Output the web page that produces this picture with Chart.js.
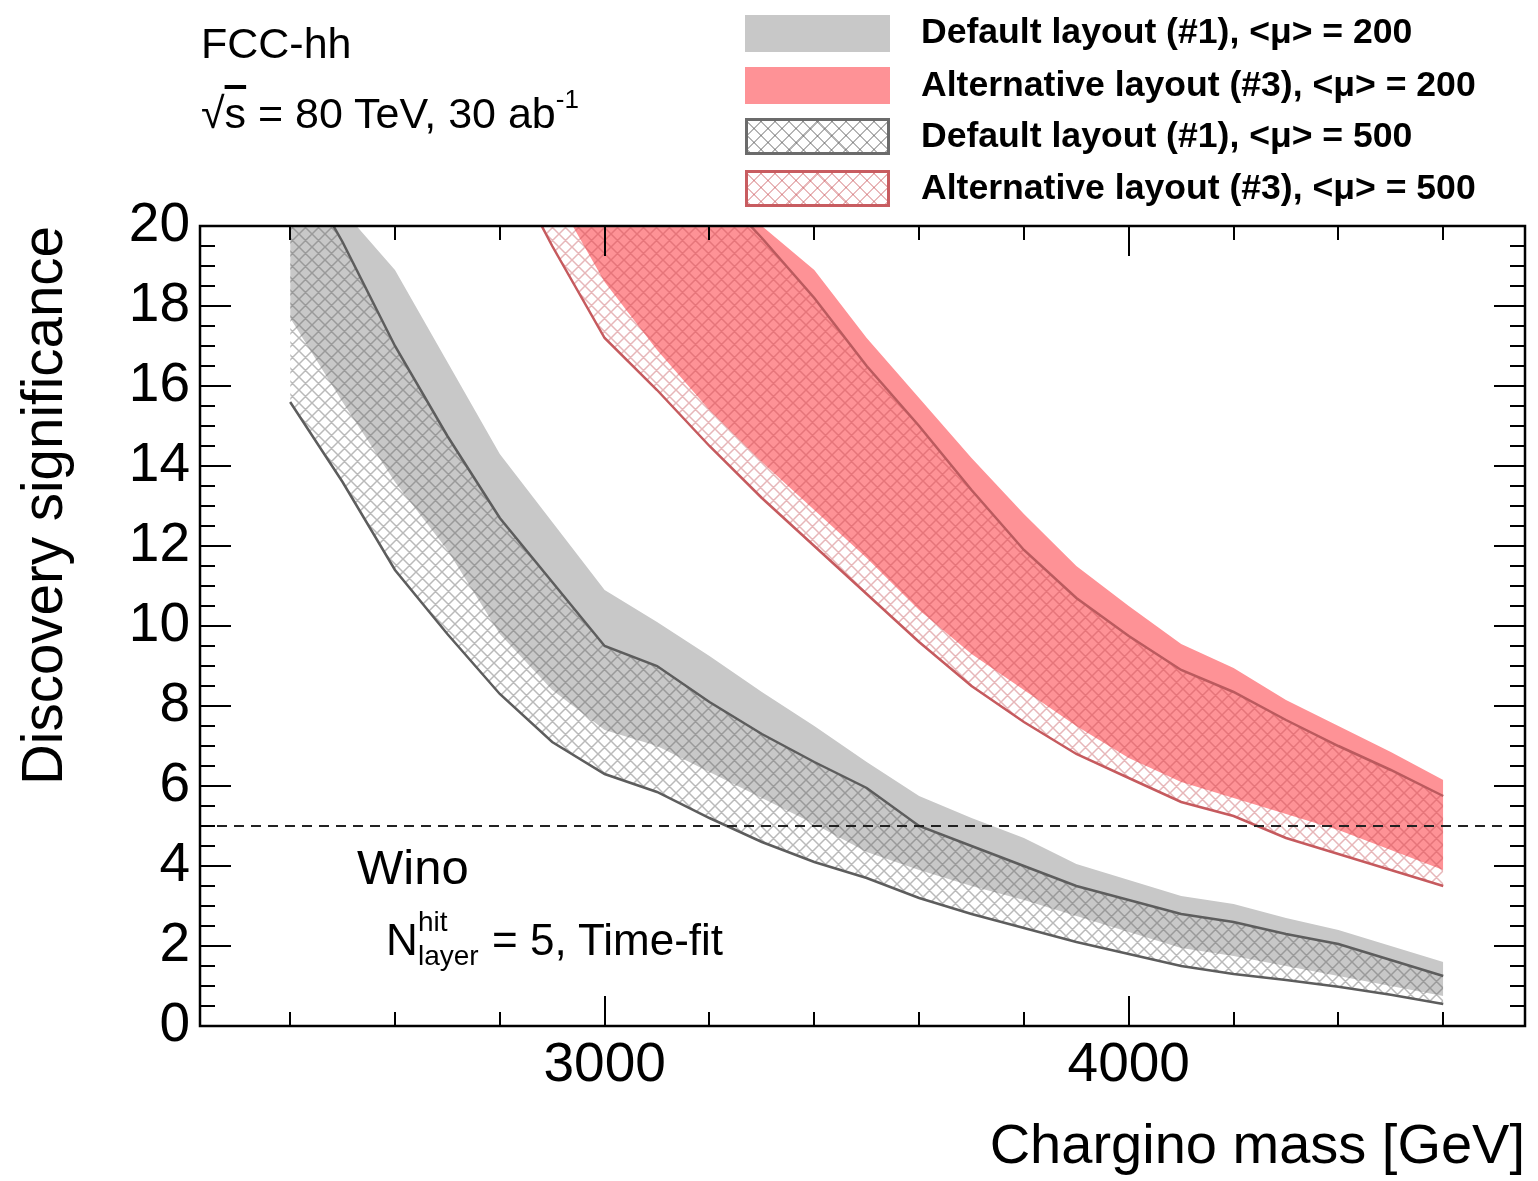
<!DOCTYPE html>
<html><head><meta charset="utf-8">
<script src="https://cdn.jsdelivr.net/npm/chart.js@4.4.1/dist/chart.umd.min.js"></script>
<style>
html,body{margin:0;padding:0;background:#fff;}
#wrap{position:relative;width:1538px;height:1181px;overflow:hidden;}
#wrap canvas{position:absolute;left:0;top:0;}
.t{position:absolute;font-family:"Liberation Sans",Arial,Helvetica,sans-serif;color:#000;white-space:nowrap;line-height:1;}
.lg{font-weight:bold;font-size:35.6px;left:921px;}
.sw{position:absolute;left:745px;width:145px;height:37px;box-sizing:border-box;}
</style></head><body>
<div id="wrap">
<canvas id="c" width="1538" height="1181"></canvas>

<div class="t" style="left:201px;top:21.6px;font-size:43px;">FCC-hh</div>
<div class="t" style="left:201px;top:91.6px;font-size:43px;">√<span style="text-decoration:overline;">s</span> = 80 TeV, 30 ab<span style="font-size:26px;position:relative;top:-20px;">-1</span></div>

<div class="sw" style="top:15px;background:#c8c8c8;"></div>
<div class="sw" style="top:67px;background:#fe9296;"></div>
<div class="sw" style="top:118px;border:3px solid #6b6b6b;background-image:repeating-linear-gradient(45deg,rgba(90,90,90,.45) 0 1.5px,transparent 1.5px 10px),repeating-linear-gradient(-45deg,rgba(90,90,90,.45) 0 1.5px,transparent 1.5px 10px);"></div>
<div class="sw" style="top:170px;border:3px solid #c85c60;background-image:repeating-linear-gradient(45deg,rgba(200,80,85,.4) 0 1.5px,transparent 1.5px 10px),repeating-linear-gradient(-45deg,rgba(200,80,85,.4) 0 1.5px,transparent 1.5px 10px);"></div>
<div class="t lg" style="top:14.4px;">Default layout (#1), &lt;μ&gt; = 200</div>
<div class="t lg" style="top:67.4px;">Alternative layout (#3), &lt;μ&gt; = 200</div>
<div class="t lg" style="top:118.4px;">Default layout (#1), &lt;μ&gt; = 500</div>
<div class="t lg" style="top:170.4px;">Alternative layout (#3), &lt;μ&gt; = 500</div>

<div class="t" style="left:357px;top:842.5px;font-size:49px;">Wino</div>
<div class="t" style="left:386px;top:917.8px;font-size:44px;">N</div>
<div class="t" style="left:418px;top:908.3px;font-size:28px;">hit</div>
<div class="t" style="left:418px;top:942.3px;font-size:28px;">layer</div>
<div class="t" style="left:492px;top:917.8px;font-size:44px;">= 5, Time-fit</div>
</div>
<script>
// ---- data ----
const masses   = [2400,2500,2600,2700,2800,2900,3000,3100,3200,3300,3400,3500,3600,3700,3800,3900,4000,4100,4200,4300,4400,4500,4600];
// Default layout (#1), <mu> = 200 : band edges (solid grey)
const def200Hi = [22.8,20.4,18.9,16.6,14.3,12.6,10.9,10.1,9.25,8.35,7.5,6.6,5.75,5.2,4.7,4.05,3.65,3.25,3.05,2.7,2.4,2.0,1.6];
const def200Lo = [17.7,15.6,13.6,11.9,9.8,8.4,7.4,7.0,6.35,5.7,5.05,4.35,3.9,3.5,3.15,2.75,2.35,1.95,1.75,1.5,1.25,1.0,0.75];
// Alternative layout (#3), <mu> = 200 : band edges (solid red)
const alt200Hi = [40,37,34,31,28,25.5,24,22.8,21.5,20.0,18.9,17.2,15.7,14.2,12.8,11.5,10.5,9.55,8.95,8.15,7.5,6.85,6.15];
const alt200Lo = [34,31,28,25.5,23.2,20.9,18.6,16.9,15.4,14.1,12.9,11.7,10.4,9.3,8.4,7.5,6.7,6.1,5.7,5.3,4.9,4.4,3.9];
// Default layout (#1), <mu> = 500 : band edges (hatched grey)
const def500Hi = [21.9,19.6,17.0,14.75,12.7,11.1,9.5,9.0,8.1,7.3,6.6,5.95,5.0,4.5,4.0,3.5,3.15,2.8,2.6,2.3,2.05,1.65,1.25];
const def500Lo = [15.6,13.6,11.4,9.8,8.3,7.1,6.3,5.85,5.2,4.6,4.1,3.7,3.2,2.8,2.45,2.1,1.8,1.5,1.3,1.15,0.98,0.78,0.55];
// Alternative layout (#3), <mu> = 500 : band edges (hatched red)
const alt500Hi = [38,35,32,29,26.5,24.5,23.5,22.3,21.1,19.7,18.2,16.5,15.0,13.4,11.9,10.7,9.75,8.9,8.35,7.65,7.0,6.4,5.75];
const alt500Lo = [32,29.5,27,24.5,22.0,19.5,17.2,15.9,14.5,13.2,12.0,10.8,9.6,8.5,7.6,6.8,6.2,5.6,5.25,4.7,4.3,3.9,3.5];
// discovery threshold line and axes
const discoveryLevel = 5;
const xRange = [2228, 4756];
const yRange = [0, 20];
const xLabelTicks = [3000, 4000];
const xMinorTicks = [2400,2600,2800,3200,3400,3600,3800,4200,4400,4600];

const pts = arr => masses.map((m, i) => ({x: m, y: arr[i]}));

function hatch(color) {
  const s = 13;
  const c = document.createElement('canvas');
  c.width = s; c.height = s;
  const g = c.getContext('2d');
  g.strokeStyle = color; g.lineWidth = 1.5;
  g.beginPath();
  for (const k of [-s, 0, s]) {
    g.moveTo(k, 0); g.lineTo(k + s, s);
    g.moveTo(k + s, 0); g.lineTo(k, s);
  }
  g.stroke();
  return g.createPattern(c, 'repeat');
}

const ctx = document.getElementById('c').getContext('2d');
const greyHatch = hatch('rgba(90,90,90,0.42)');
const redHatch = hatch('rgba(195,75,80,0.4)');

const FONT = '"Liberation Sans", Arial, Helvetica, sans-serif';

const frameTicks = {
  id: 'frameTicks',
  afterDatasetsDraw(chart) {
    const {ctx, chartArea: a, scales: {x, y}} = chart;
    ctx.save();
    ctx.strokeStyle = '#000';
    ctx.lineWidth = 2;
    ctx.beginPath();
    const xt = xLabelTicks.map(v => [v, 30]).concat(xMinorTicks.map(v => [v, 14]));
    for (const [v, L] of xt) {
      const p = Math.round(x.getPixelForValue(v));
      ctx.moveTo(p, a.bottom); ctx.lineTo(p, a.bottom - L);
      ctx.moveTo(p, a.top); ctx.lineTo(p, a.top + L);
    }
    for (let i = 0; i <= 40; i++) {
      const v = i * 0.5;
      const L = (i % 4 === 0) ? 31 : 15;
      const p = Math.round(y.getPixelForValue(v));
      ctx.moveTo(a.left, p); ctx.lineTo(a.left + L, p);
      ctx.moveTo(a.right, p); ctx.lineTo(a.right - L, p);
    }
    ctx.stroke();
    ctx.lineWidth = 2.5;
    ctx.strokeRect(a.left, a.top, a.right - a.left, a.bottom - a.top);
    ctx.restore();
  }
};

new Chart(ctx, {
  type: 'line',
  data: {
    datasets: [
      { label: 'threshold', data: [{x: xRange[0], y: discoveryLevel}, {x: xRange[1], y: discoveryLevel}],
        borderColor: '#222', borderWidth: 2, borderDash: [10, 7], pointRadius: 0, fill: false },
      { label: 'Default layout (#1), <μ> = 500 low', data: pts(def500Lo),
        borderColor: '#5d5d5d', borderWidth: 2.5, pointRadius: 0, fill: false },
      { label: 'Default layout (#1), <μ> = 500', data: pts(def500Hi),
        borderColor: '#5d5d5d', borderWidth: 2.5, pointRadius: 0, fill: 1, backgroundColor: greyHatch },
      { label: 'Alternative layout (#3), <μ> = 500 low', data: pts(alt500Lo),
        borderColor: '#c65a5e', borderWidth: 2.5, pointRadius: 0, fill: false },
      { label: 'Alternative layout (#3), <μ> = 500', data: pts(alt500Hi),
        borderColor: '#bb5a5e', borderWidth: 2.5, pointRadius: 0, fill: 3, backgroundColor: redHatch },
      { label: 'Default layout (#1), <μ> = 200 low', data: pts(def200Lo),
        borderWidth: 0, borderColor: 'rgba(0,0,0,0)', pointRadius: 0, fill: false },
      { label: 'Default layout (#1), <μ> = 200', data: pts(def200Hi),
        borderWidth: 0, borderColor: 'rgba(0,0,0,0)', pointRadius: 0, fill: 5, backgroundColor: '#c8c8c8' },
      { label: 'Alternative layout (#3), <μ> = 200 low', data: pts(alt200Lo),
        borderWidth: 0, borderColor: 'rgba(0,0,0,0)', pointRadius: 0, fill: false },
      { label: 'Alternative layout (#3), <μ> = 200', data: pts(alt200Hi),
        borderWidth: 0, borderColor: 'rgba(0,0,0,0)', pointRadius: 0, fill: 7, backgroundColor: '#fe9296' }
    ]
  },
  options: {
    responsive: false,
    animation: false,
    events: [],
    layout: { padding: { left: 0, top: 226, right: 13, bottom: 0 } },
    elements: { line: { tension: 0 } },
    plugins: {
      legend: { display: false },
      tooltip: { enabled: false },
      filler: { drawTime: 'beforeDatasetsDraw' }
    },
    scales: {
      x: {
        type: 'linear', min: xRange[0], max: xRange[1],
        grid: { display: false, drawTicks: false }, border: { display: false },
        afterBuildTicks: s => { s.ticks = xLabelTicks.map(v => ({value: v})); },
        afterFit: s => { s.height = 155; },
        ticks: { padding: 7, color: '#000', font: { family: FONT, size: 55 }, maxRotation: 0,
                 callback: v => String(v) },
        title: { display: true, text: 'Chargino mass [GeV]', align: 'end', color: '#000',
                 font: { family: FONT, size: 56 }, padding: { top: 0, bottom: 0 } }
      },
      y: {
        min: yRange[0], max: yRange[1],
        grid: { display: false, drawTicks: false }, border: { display: false },
        afterFit: s => { s.width = 200; },
        ticks: { stepSize: 2, padding: 10, color: '#000', font: { family: FONT, size: 55 } },
        title: { display: true, text: 'Discovery significance', align: 'end', color: '#000',
                 font: { family: FONT, size: 56.5 }, padding: { top: 13, bottom: 0 } }
      }
    }
  },
  plugins: [frameTicks]
});
</script>
</body></html>
